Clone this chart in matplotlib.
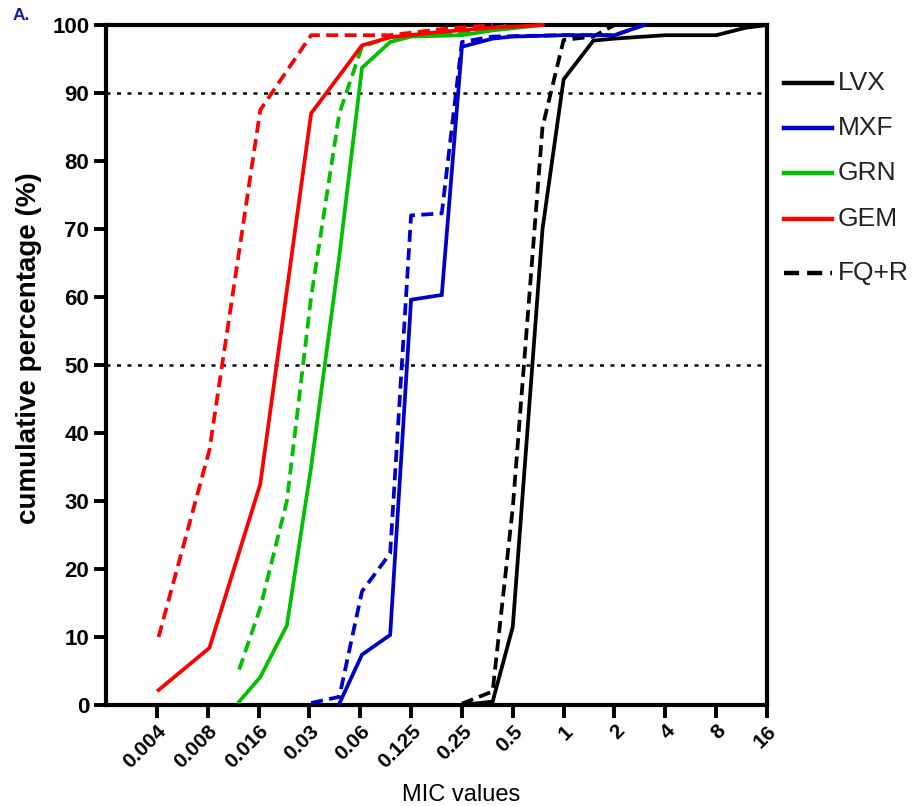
import matplotlib
matplotlib.use("Agg")
import matplotlib.pyplot as plt
from matplotlib.lines import Line2D

plt.rcParams['font.family'] = ['Liberation Sans', 'DejaVu Sans']

# ---- data (MIC, cumulative %) ----
lvx_x = [0.25, 0.38, 0.5, 0.75, 1, 1.5, 2, 4, 8, 12, 16]
lvx_y = [0, 0.5, 11.5, 70, 92, 97.7, 98, 98.5, 98.5, 99.6, 100]
lvx_r_x = [0.25, 0.38, 0.5, 0.75, 1, 1.5, 2]
lvx_r_y = [0.2, 2, 29, 85, 97.8, 98.3, 100]

mxf_x = [0.047, 0.064, 0.094, 0.125, 0.19, 0.25, 0.38, 0.5, 1, 2, 3]
mxf_y = [0.2, 7.4, 10.3, 59.6, 60.3, 96.8, 98, 98.3, 98.5, 98.5, 100]
mxf_r_x = [0.032, 0.047, 0.064, 0.094, 0.125, 0.19, 0.25, 0.38, 1, 2, 3]
mxf_r_y = [0.3, 1.2, 16.7, 22.3, 72, 72.3, 97.5, 98.3, 98.5, 98.5, 100]

grn_x = [0.012, 0.016, 0.023, 0.032, 0.047, 0.064, 0.094, 0.125, 0.25, 0.38, 0.75]
grn_y = [0.5, 4.1, 11.7, 35, 66, 93.7, 97.5, 98.3, 98.5, 99.2, 100]
grn_r_x = [0.012, 0.016, 0.023, 0.032, 0.047, 0.064, 0.094, 0.125, 0.25, 0.5]
grn_r_y = [5.2, 14.3, 30, 60, 87, 96.8, 98.2, 98.5, 98.8, 100]

gem_x = [0.004, 0.008, 0.016, 0.032, 0.064, 0.094, 0.19, 0.38, 0.75]
gem_y = [2.2, 8.4, 32.5, 87, 97, 98.2, 99, 99.6, 100]
gem_r_x = [0.004, 0.008, 0.016, 0.032, 0.064, 0.094, 0.19, 0.38]
gem_r_y = [10, 37.5, 87.5, 98.5, 98.5, 98.5, 99.4, 100]

tick_vals = [2**k for k in range(-8, 5)]
tick_labels = ['0.004', '0.008', '0.016', '0.03', '0.06', '0.125', '0.25',
               '0.5', '1', '2', '4', '8', '16']
ref_levels = [50, 90]

legend_names = ['LVX', 'MXF', 'GRN', 'GEM']
BLACK = '#000000'
BLUE = '#0000C8'
GREEN = '#00C000'
RED = '#FF0000'

W, H = 914, 806
fig = plt.figure(figsize=(W / 100, H / 100), dpi=100)
ax = fig.add_axes([106 / W, 1 - 705 / H, 661 / W, 680 / H])

lw = 2.7
dash = (3.2, 1.7)
series = [
    (lvx_x, lvx_y, BLACK, '-'), (lvx_r_x, lvx_r_y, BLACK, '--'),
    (mxf_x, mxf_y, BLUE, '-'), (mxf_r_x, mxf_r_y, BLUE, '--'),
    (grn_x, grn_y, GREEN, '-'), (grn_r_x, grn_r_y, GREEN, '--'),
    (gem_x, gem_y, RED, '-'), (gem_r_x, gem_r_y, RED, '--'),
]
for xs, ys, c, ls in series:
    line, = ax.plot(xs, ys, color=c, lw=lw, ls=ls, solid_joinstyle='miter',
                    clip_on=False, zorder=3)
    if ls == '--':
        line.set_dashes(dash)

for lev in ref_levels:
    ax.axhline(lev, color='black', lw=1.8, ls=(0, (1.6, 2.6)), zorder=2)

ax.set_xscale('log', base=2)
ax.set_xlim(2**-9, 2**4)
ax.set_ylim(0, 100)
ax.set_xticks(tick_vals)
ax.set_xticklabels(tick_labels, rotation=45, ha='right', rotation_mode='anchor',
                   fontsize=15, fontweight='bold')
ax.minorticks_off()
ax.set_yticks(range(0, 101, 10))
ax.set_yticklabels([str(v) for v in range(0, 101, 10)], fontsize=16, fontweight='bold')
ax.tick_params(axis='both', direction='out', length=9, width=2.8, color='black', pad=3)
for s in ax.spines.values():
    s.set_linewidth(3)
    s.set_color('black')

fig.text(29 / W, 1 - 348 / H, 'cumulative percentage (%)', rotation=90,
         fontsize=20, fontweight='bold', ha='center', va='center')
fig.text(461 / W, 1 - 795 / H, 'MIC values', fontsize=17, ha='center', va='center')

fig.text(13 / W, 1 - 15 / H, 'A.', color='#1a1aa0', fontsize=12.5, fontweight='bold',
         ha='left', va='center')

# legend drawn at right of axes
leg_colors = [BLACK, BLUE, GREEN, RED]
leg_y = [83, 128, 173, 219]
for name, c, yp in zip(legend_names, leg_colors, leg_y):
    fy = 1 - yp / H
    fig.add_artist(Line2D([784 / W, 832 / W], [fy, fy], color=c, lw=3.2))
    fig.text(838 / W, fy, name, fontsize=19, color='#222222', va='center', ha='left')
fy = 1 - 273 / H
dl = Line2D([784 / W, 832 / W], [fy, fy], color='black', lw=3.2)
dl.set_dashes((3.4, 1.8))
fig.add_artist(dl)
fig.text(838 / W, fy, 'FQ+R', fontsize=19, color='#222222', va='center', ha='left')

fig.savefig('out.png', dpi=100)
